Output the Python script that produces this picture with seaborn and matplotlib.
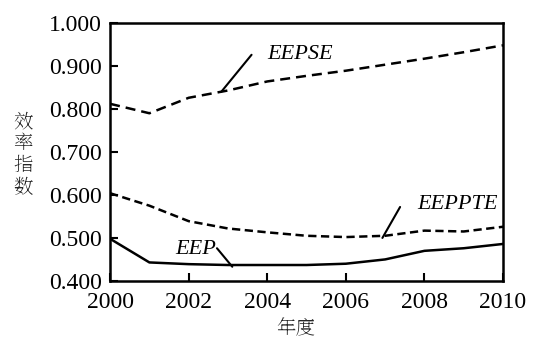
import numpy as np
import pandas as pd
import matplotlib
matplotlib.use("Agg")
import matplotlib.pyplot as plt
import seaborn as sns

years = [2000, 2001, 2002, 2003, 2004, 2005, 2006, 2007, 2008, 2009, 2010]
eepse = [0.812, 0.790, 0.826, 0.843, 0.864, 0.877, 0.889, 0.903, 0.917, 0.932, 0.948]
eeppte = [0.604, 0.575, 0.539, 0.522, 0.513, 0.505, 0.502, 0.505, 0.517, 0.515, 0.526]
eep = [0.498, 0.443, 0.439, 0.437, 0.437, 0.437, 0.440, 0.450, 0.470, 0.476, 0.486]

series_names = ["EEPSE", "EEPPTE", "EEP"]
x_ticks = [2000, 2002, 2004, 2006, 2008, 2010]
y_ticks = [0.4, 0.5, 0.6, 0.7, 0.8, 0.9, 1.0]

df = pd.DataFrame({
    "year": years * 3,
    "value": eepse + eeppte + eep,
    "series": sum([[s] * len(years) for s in series_names], []),
})

sns.set_theme(style="ticks")
plt.rcParams["font.family"] = ["Liberation Serif", "DejaVu Serif"]

fig = plt.figure(figsize=(5.45, 3.43), dpi=100)
ax = fig.add_axes([0.202, 0.181, 0.721, 0.752])

sns.lineplot(
    data=df, x="year", y="value", style="series", hue="series",
    palette={s: "black" for s in series_names},
    dashes={"EEPSE": (4, 2.4), "EEPPTE": (3.3, 1.8), "EEP": ""},
    linewidth=1.8, legend=False, ax=ax,
)

ax.set_xlim(2000, 2010)
ax.set_ylim(0.4, 1.0)
ax.set_xticks(x_ticks)
ax.set_yticks(y_ticks)
ax.set_yticklabels([f"{v:.3f}" for v in y_ticks])
ax.tick_params(direction="in", length=6, width=1.5, labelsize=17, colors="black", pad=6)
ax.tick_params(axis="x", pad=8)
for t in ax.get_xticklabels() + ax.get_yticklabels():
    t.set_family("Liberation Serif")
for sp in ax.spines.values():
    sp.set_linewidth(1.8)
    sp.set_color("black")
ax.set_xlabel("")
ax.set_ylabel("")

# series labels with leader lines
lbl = dict(fontsize=16, style="italic", color="black", va="center", family="Liberation Serif")
ax.text(2004.0, 0.926, "EEPSE", **lbl)
ax.plot([2003.6, 2002.83], [0.926, 0.84], color="black", lw=1.5)
ax.text(2007.82, 0.577, "EEPPTE", **lbl)
ax.plot([2007.38, 2006.93], [0.572, 0.5], color="black", lw=1.5)
ax.text(2001.65, 0.472, "EEP", **lbl)
ax.plot([2002.72, 2003.11], [0.476, 0.433], color="black", lw=1.5)

cjk = ["Noto Serif SC", "Noto Sans CJK SC", "DejaVu Sans"]
fig.text(0.042, 0.548, "效\n率\n指\n数", family=cjk, fontsize=14,
         ha="center", va="center", linespacing=1.1)
fig.text(0.543, 0.04, "年度", family=cjk, fontsize=14, ha="center", va="center")

fig.savefig("out.png", dpi=100)
